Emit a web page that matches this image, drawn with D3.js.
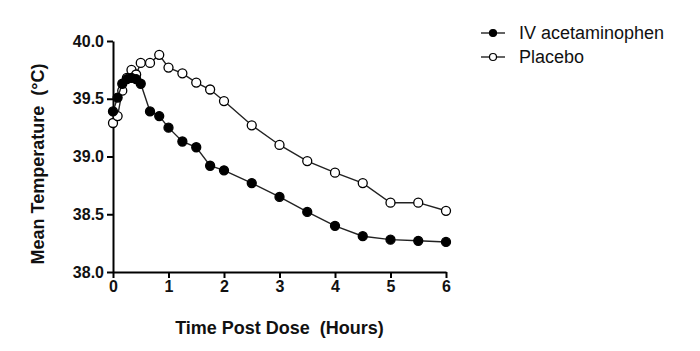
<!DOCTYPE html>
<html>
<head>
<meta charset="utf-8">
<script src="https://cdn.jsdelivr.net/npm/d3@7"></script>
<style>
  html, body { margin: 0; padding: 0; background: #fff; }
  svg { display: block; font-family: "Liberation Sans", Arial, sans-serif; }
  .ax path, .ax line { stroke: #000; stroke-width: 2; }
  .ax text { font-size: 16px; font-weight: bold; fill: #111; }
  .title { white-space: pre; }
</style>
</head>
<body>
<div id="chart"></div>
<script>
  // time points (hours post dose)
  var hours = [0, 0.083, 0.167, 0.25, 0.333, 0.417, 0.5, 0.667, 0.833, 1, 1.25, 1.5, 1.75, 2,
               2.5, 3, 3.5, 4, 4.5, 5, 5.5, 6];
  // mean temperature, deg C
  var ivAcet  = [39.39, 39.51, 39.63, 39.67, 39.68, 39.67, 39.63, 39.39, 39.35, 39.25, 39.13, 39.08, 38.92, 38.88,
                 38.77, 38.65, 38.52, 38.40, 38.31, 38.28, 38.27, 38.26];
  var placebo = [39.29, 39.35, 39.57, 39.68, 39.75, 39.71, 39.81, 39.81, 39.88, 39.77, 39.72, 39.64, 39.58, 39.48,
                 39.27, 39.10, 38.96, 38.86, 38.77, 38.60, 38.60, 38.53];
  var xTicks = [0, 1, 2, 3, 4, 5, 6];
  var yTicks = [38.0, 38.5, 39.0, 39.5, 40.0];
  var seriesNames = ["IV acetaminophen", "Placebo"];

  var W = 700, H = 351;
  var m = { top: 41, left: 113, right: 254, bottom: 79 };
  var iw = W - m.left - m.right, ih = H - m.top - m.bottom;

  var svg = d3.select("#chart").append("svg").attr("width", W).attr("height", H);
  var g = svg.append("g").attr("transform", "translate(" + m.left + "," + m.top + ")");

  var x = d3.scaleLinear().domain([0, 6]).range([0, iw]);
  var y = d3.scaleLinear().domain([38, 40]).range([ih, 0]);

  g.append("g").attr("class", "ax").attr("transform", "translate(0," + ih + ")")
    .call(d3.axisBottom(x).tickValues(xTicks).tickFormat(d3.format("d")).tickSize(6).tickSizeOuter(0).tickPadding(3));
  g.append("g").attr("class", "ax")
    .call(d3.axisLeft(y).tickValues(yTicks).tickFormat(d3.format(".1f")).tickSize(6).tickSizeOuter(0).tickPadding(3));

  var series = [
    { name: seriesNames[0], vals: ivAcet, fill: "#000" },
    { name: seriesNames[1], vals: placebo, fill: "#fff" }
  ];

  var line = d3.line().x(function (d) { return x(d[0]); }).y(function (d) { return y(d[1]); });

  // draw placebo first so filled markers sit on top
  series.slice().reverse().forEach(function (s) {
    var pts = hours.map(function (h, i) { return [h, s.vals[i]]; });
    g.append("path").datum(pts).attr("d", line)
      .attr("fill", "none").attr("stroke", "#222").attr("stroke-width", 1.4);
    g.selectAll(null).data(pts).enter().append("circle")
      .attr("cx", function (d) { return x(d[0]); })
      .attr("cy", function (d) { return y(d[1]); })
      .attr("r", 4.5)
      .attr("fill", s.fill).attr("stroke", "#000").attr("stroke-width", 1.3);
  });

  // axis titles (double space kept as in the original)
  svg.append("text").attr("class", "title").attr("x", m.left + iw / 2).attr("y", 334)
    .attr("text-anchor", "middle").attr("font-size", 18).attr("font-weight", "bold").attr("fill", "#111")
    .text("Time Post Dose  (Hours)");
  svg.append("text").attr("class", "title").attr("transform", "translate(44,164) rotate(-90)")
    .attr("text-anchor", "middle").attr("font-size", 18).attr("font-weight", "bold").attr("fill", "#111")
    .text("Mean Temperature  (\u00B0C)");

  // legend
  var lg = svg.append("g").attr("transform", "translate(481,33)");
  series.forEach(function (s, i) {
    var row = lg.append("g").attr("transform", "translate(0," + i * 24 + ")");
    row.append("line").attr("x1", 0).attr("x2", 24).attr("stroke", "#222").attr("stroke-width", 1.4);
    row.append("circle").attr("cx", 12).attr("r", 3.5)
      .attr("fill", s.fill).attr("stroke", "#000").attr("stroke-width", 1.2);
    row.append("text").attr("x", 38).attr("dy", "0.35em").attr("font-size", 18).attr("fill", "#111")
      .text(s.name);
  });
</script>
</body>
</html>
